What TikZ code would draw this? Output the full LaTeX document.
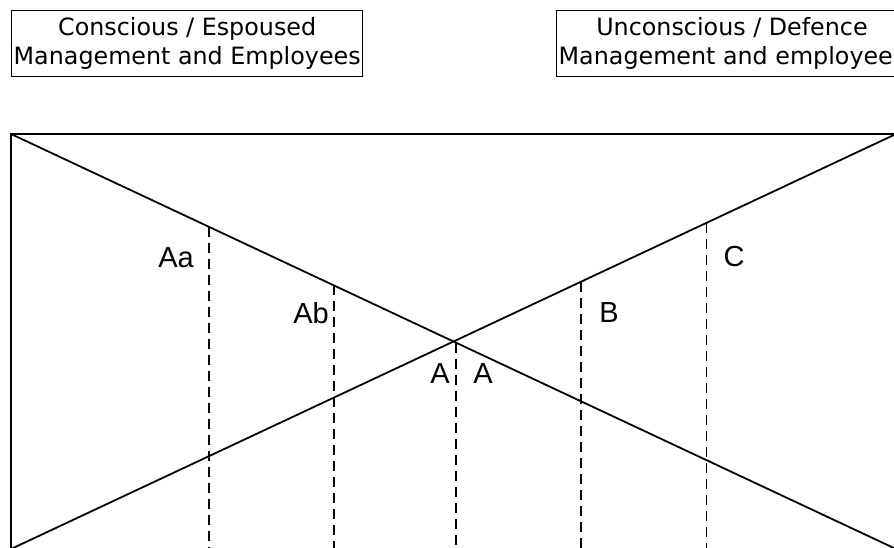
\documentclass[tikz,border=0pt]{standalone}
\usepackage{fontspec}
\setmainfont{DejaVu Sans}
\newfontfamily\tagfont{Liberation Sans}
\usetikzlibrary{positioning}
\usetikzlibrary{calc}

\begin{document}
\begin{tikzpicture}[x=1pt,y=-1pt,
    headbox/.style={draw,line width=1.4pt,align=center,inner xsep=2pt,inner ysep=7pt,
      font=\fontsize{23.8}{29}\selectfont},
    tag/.style={inner sep=0pt,anchor=base,font=\tagfont\fontsize{29}{29}\selectfont},
    cut/.style={line width=1.5pt,dash pattern=on 10pt off 6pt}]
\useasboundingbox (0,0) rectangle (894,548);

% the two headings
\node[headbox,anchor=north west] (espoused) at (11,10) {Conscious / Espoused\\Management and Employees};
\node[headbox,anchor=north west] (defence) at (556,10) {Unconscious / Defence\\Management and employees};

% frame and diagonals
\coordinate (tl) at (11,134);
\coordinate (tr) at (896,134);
\coordinate (bl) at (11,549);
\coordinate (br) at (896,549);
\draw[line width=1.8pt] (bl) -- (tl) -- (tr) -- (br) -- cycle;
\draw[line width=1.8pt] (tl) -- (br);
\draw[line width=1.8pt] (bl) -- (tr);

% dashed cuts
\foreach \t/\n in {0.224/aa,0.365/ab,0.503/a}
  \coordinate (\n) at ($(tl)!\t!(br)$);
\foreach \t/\n in {0.644/b,0.786/c}
  \coordinate (\n) at ($(bl)!\t!(tr)$);
\foreach \n in {aa,ab,a,b,c}
  \draw[cut] (\n) -- (\n |- bl);

% labels
\node[tag] (laa) at (176,267) {Aa};
\node[tag] (lab) at (311,323) {Ab};
\node[tag] (la1) at (440,383) {A};
\node[tag] (la2) at (483,383) {A};
\node[tag] (lb) at (609,322) {B};
\node[tag] (lc) at (734,266) {C};
\end{tikzpicture}
\end{document}
